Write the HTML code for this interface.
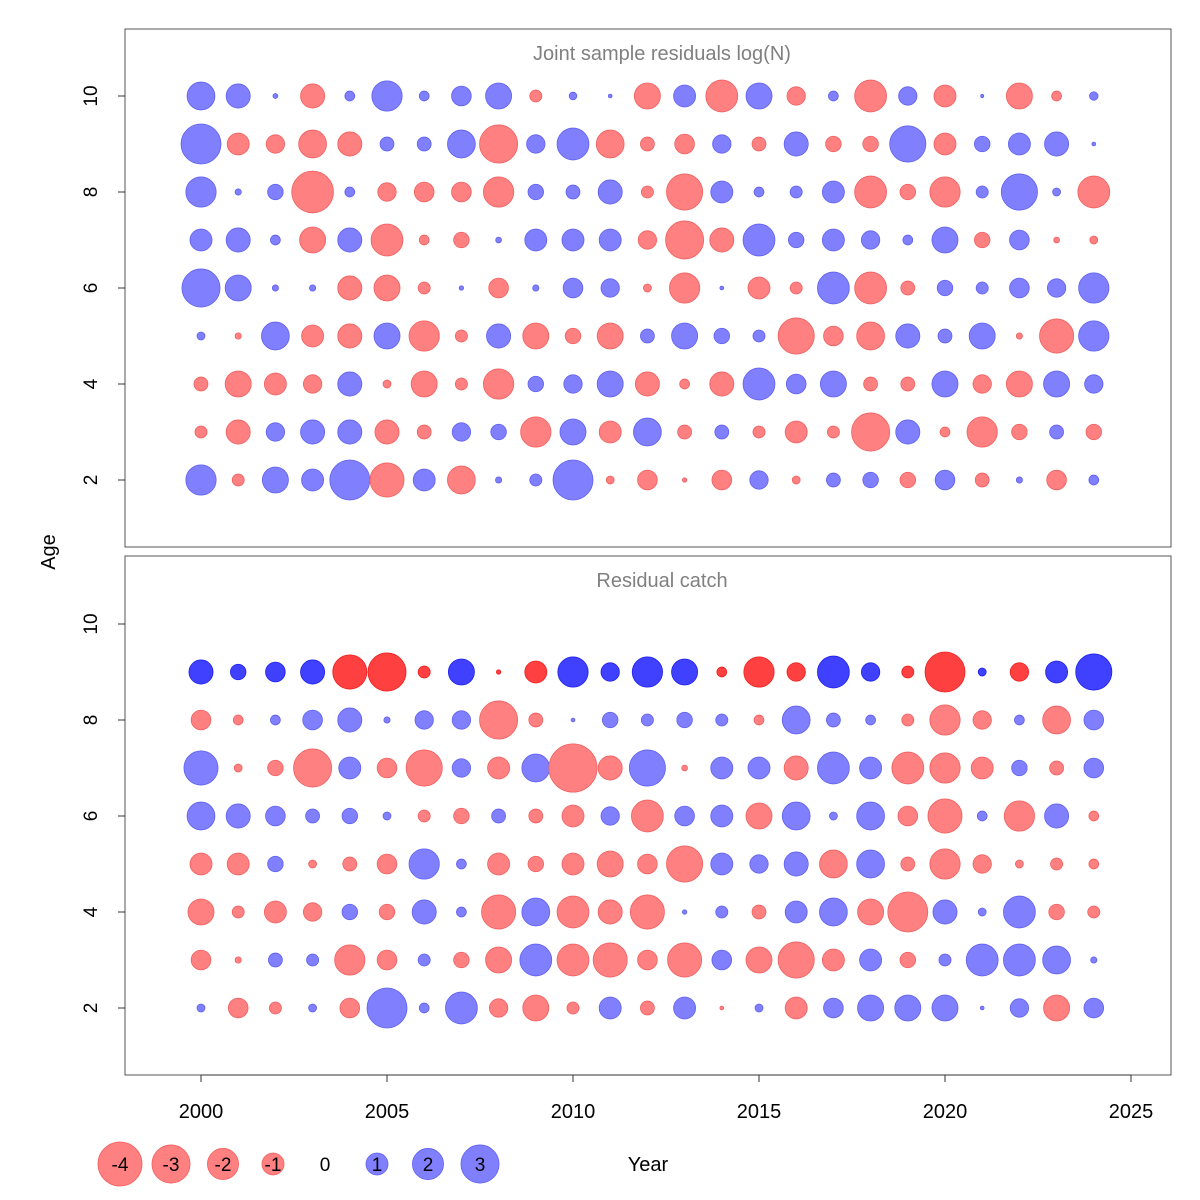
<!DOCTYPE html>
<html><head><meta charset="utf-8">
<style>
body{margin:0;background:#fff;}
svg{display:block;font-family:"Liberation Sans",Arial,sans-serif;}
</style></head>
<body>
<svg id="chart" width="1200" height="1200" viewBox="0 0 1200 1200">
<rect width="1200" height="1200" fill="#fff"/>
<g id="g"></g>
</svg>
<script>
const years = [2000,2001,2002,2003,2004,2005,2006,2007,2008,2009,2010,2011,2012,2013,2014,2015,2016,2017,2018,2019,2020,2021,2022,2023,2024];
const ages = [10,9,8,7,6,5,4,3,2];
const xTicks = [2000,2005,2010,2015,2020,2025];
const yTicks = [2,4,6,8,10];
const legendValues = [-4,-3,-2,-1,0,1,2,3];
// Joint sample residuals log(N), rows = ages 10..2
const surveyResid = [
[1.6,1.2,0.05,-1.2,0.2,1.9,0.2,0.8,1.4,-0.3,0.12,0.03,-1.4,1.0,-2.1,1.4,-0.7,0.2,-2.1,0.7,-1.0,0.02,-1.4,-0.2,0.15],
[3.3,-1.0,-0.7,-1.6,-1.2,0.4,0.4,1.6,-3.0,0.7,2.1,-1.6,-0.4,-0.8,0.7,-0.4,1.2,-0.5,-0.5,2.7,-1.0,0.5,1.0,1.2,0.03],
[1.9,0.08,0.5,-3.6,0.2,-0.7,-0.8,-0.8,-1.9,0.5,0.4,1.2,-0.3,-2.7,1.0,0.2,0.3,1.0,-2.1,-0.5,-1.9,0.3,2.7,0.13,-2.1],
[1.0,1.2,0.2,-1.4,1.2,-2.1,-0.2,-0.5,0.07,1.0,1.0,1.0,-0.7,-3.0,-1.2,2.1,0.5,1.0,0.7,0.2,1.4,-0.5,0.8,-0.07,-0.13],
[3.0,1.4,0.08,0.08,-1.2,-1.4,-0.3,0.04,-0.8,0.08,0.8,0.7,-0.13,-1.9,0.03,-1.0,-0.3,2.1,-2.1,-0.4,0.5,0.3,0.8,0.7,1.9],
[0.13,-0.08,1.6,-1.0,-1.2,1.4,-1.9,-0.3,1.2,-1.4,-0.5,-1.4,0.4,1.4,0.5,0.3,-2.7,-0.8,-1.6,1.2,0.4,1.4,-0.08,-2.4,1.9],
[-0.4,-1.4,-1.0,-0.7,1.2,-0.13,-1.4,-0.3,-1.9,0.5,0.7,1.4,-1.2,-0.2,-1.2,2.1,0.8,1.4,-0.4,-0.4,1.4,-0.7,-1.4,1.4,0.7],
[-0.3,-1.2,0.7,1.2,1.2,-1.2,-0.4,0.7,0.5,-1.9,1.4,-1.0,1.6,-0.4,0.4,-0.3,-1.0,-0.3,-3.0,1.2,-0.2,-1.9,-0.5,0.4,-0.5],
[1.9,-0.3,1.4,1.0,3.3,-2.4,1.0,-1.6,0.08,0.3,3.3,-0.13,-0.8,-0.04,-0.8,0.7,-0.13,0.4,0.5,-0.5,0.8,-0.4,0.08,-0.8,0.2]
];
// Residual catch, rows = ages 10..2
const catchResid = [
[0,0,0,0,0,0,0,0,0,0,0,0,0,0,0,0,0,0,0,0,0,0,0,0,0],
[1.2,0.5,0.8,1.2,-2.4,-3.0,-0.3,1.4,-0.04,-1.0,1.9,0.7,1.9,1.4,-0.2,-1.9,-0.7,2.1,0.7,-0.3,-3.3,0.13,-0.7,1.0,2.7],
[-0.8,-0.2,0.2,0.8,1.2,0.08,0.7,0.7,-3.0,-0.4,0.03,0.5,0.3,0.5,0.3,-0.2,1.6,0.4,0.2,-0.3,-1.9,-0.7,0.2,-1.6,0.8],
[2.4,-0.13,-0.5,-3.0,1.0,-0.8,-2.7,0.7,-1.0,1.6,-4.8,-1.2,2.7,-0.07,1.0,1.0,-1.2,2.1,1.0,-2.1,-1.9,-1.0,0.5,-0.4,0.8],
[1.6,1.2,0.8,0.4,0.5,0.13,-0.3,-0.5,0.4,-0.4,-1.0,0.7,-2.1,0.8,1.0,-1.4,1.6,0.13,1.6,-0.8,-2.4,0.2,-1.9,1.2,-0.2],
[-1.0,-1.0,0.5,-0.13,-0.4,-0.8,1.9,0.2,-1.0,-0.5,-1.0,-1.4,-0.8,-2.7,1.0,0.7,1.2,-1.6,1.6,-0.4,-1.9,-0.7,-0.13,-0.3,-0.2],
[-1.4,-0.3,-1.0,-0.7,0.5,-0.5,1.2,0.2,-2.4,1.6,-2.1,-1.2,-2.4,0.04,0.3,-0.4,1.0,1.6,-1.4,-3.3,1.2,0.13,2.1,-0.5,-0.3],
[-0.8,-0.08,0.4,0.3,-1.9,-0.8,0.3,-0.5,-1.4,2.1,-2.1,-2.4,-0.8,-2.4,0.8,-1.4,-2.7,-1.0,1.0,-0.5,0.3,2.1,2.1,1.6,0.08],
[0.13,-0.8,-0.3,0.13,-0.8,3.3,0.2,2.1,-0.7,-1.4,-0.3,1.0,-0.4,1.0,-0.03,0.13,-1.0,0.8,1.4,1.4,1.4,0.03,0.7,-1.4,0.8]
];
const catchStrongAge = 9;

const NS='http://www.w3.org/2000/svg';
const g=document.getElementById('g');
const PX0=125, PX1=1171;
const xS=y=>201+(y-2000)*37.2;
const panels=[{top:29,bot:547,y10:96,title:'Joint sample residuals log(N)',data:surveyResid,name:'survey'},
              {top:556,bot:1075,y10:624,title:'Residual catch',data:catchResid,name:'catch'}];
function rad(v){return 11*Math.sqrt(Math.abs(v));}
function el(t,a,txt){const e=document.createElementNS(NS,t);for(const k in a)e.setAttribute(k,a[k]);if(txt!==undefined)e.textContent=txt;g.appendChild(e);return e;}

panels.forEach(p=>{
  const yS=a=>p.y10+(10-a)*48;
  const box=el('rect',{x:PX0,y:p.top,width:PX1-PX0,height:p.bot-p.top,fill:'none',stroke:'#555','stroke-width':1});
  
  
  const t=el('text',{x:662,y:p.top+31,'text-anchor':'middle','font-size':20,fill:'#808080'},p.title);
  
  
  yTicks.forEach(a=>{
    const tk=el('line',{x1:PX0,x2:PX0-7,y1:yS(a),y2:yS(a),stroke:'#333'});
    
    
    const lb=el('text',{x:97,y:yS(a),'font-size':19,'text-anchor':'middle',transform:`rotate(-90 97 ${yS(a)})`,fill:'#000'},String(a));
    
    
  });
  p.data.forEach((row,i)=>{
    const age=ages[i];
    row.forEach((v,j)=>{
      if(v===0)return;
      const strong=(p.name==='catch'&&age===catchStrongAge);
      const neg=v<0;
      const fill=neg?(strong?'#ff4040':'#ff8080'):(strong?'#4040ff':'#8080ff');
      const stroke=neg?(strong?'#ee2020':'#f06060'):(strong?'#2020ee':'#6060f0');
      const c=el('circle',{cx:xS(years[j]),cy:yS(age),r:rad(v),fill:fill,stroke:stroke,'stroke-width':0.8});
      
      
    });
  });
});
// x axis
const axl=el('line',{x1:xS(2000),x2:xS(2025),y1:1075,y2:1075,stroke:'#333'});


xTicks.forEach(y=>{
  const tk=el('line',{x1:xS(y),x2:xS(y),y1:1075,y2:1082,stroke:'#333'});
  
  
  const lb=el('text',{x:xS(y),y:1118,'font-size':20,'text-anchor':'middle',fill:'#000'},String(y));
  
  
});
const yt=el('text',{x:648,y:1171,'font-size':20,'text-anchor':'middle',fill:'#000'},'Year');


const at=el('text',{x:55,y:552,'font-size':20,'text-anchor':'middle',transform:'rotate(-90 55 552)',fill:'#000'},'Age');


// legend
const legX=[120,171,223,273,325,377,428,480];
legendValues.forEach((v,i)=>{
  if(v!==0){
    const c=el('circle',{cx:legX[i],cy:1164,r:rad(v),fill:v<0?'#ff8080':'#8080ff',stroke:v<0?'#f06060':'#6060f0','stroke-width':0.8});
    
    
  }
  const t=el('text',{x:legX[i],y:1171,'font-size':19,'text-anchor':'middle',fill:'#000'},String(v));
  
  
});
</script>
</body></html>
